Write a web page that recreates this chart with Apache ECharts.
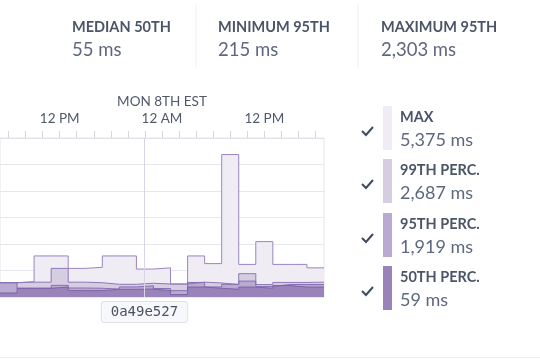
<!DOCTYPE html>
<html><head><meta charset="utf-8">
<script src="https://cdn.jsdelivr.net/npm/echarts@6/dist/echarts.min.js"></script>
<style>html,body{margin:0;padding:0;background:#fff}#c{width:540px;height:360px}</style>
</head><body><div id="c"></div>
<script>
// time bins (2 hours each)
const categories = ['6 AM','8 AM','10 AM','12 PM','2 PM','4 PM','6 PM','8 PM','10 PM','12 AM','2 AM','4 AM','6 AM','8 AM','10 AM','12 PM','2 PM','4 PM','6 PM'];
const maxValues = [540, 580, 1550, 1550, 1080, 1120, 1550, 1550, 1055, 1100, 490, 1550, 1260, 5375, 1230, 2090, 1230, 1230, 1100];
const p99Values = [540, 560, 560, 1080, 560, 540, 480, 480, 520, 490, 490, 560, 530, 470, 880, 470, 550, 550, 560];
const p95Values = [540, 330, 330, 440, 340, 330, 300, 380, 420, 320, 240, 550, 380, 480, 600, 400, 470, 470, 470];
const p50Values = [150, 330, 330, 375, 240, 240, 290, 290, 300, 240, 90, 375, 330, 290, 375, 330, 430, 375, 375];
const commitX = [8.47];
const commitLabel = '0a49e527';
const stats = [['MEDIAN 50TH','55 ms'],['MINIMUM 95TH','215 ms'],['MAXIMUM 95TH','2,303 ms']];
const legendItems = [['MAX','5,375 ms'],['99TH PERC.','2,687 ms'],['95TH PERC.','1,919 ms'],['50TH PERC.','59 ms']];

const fills = ['#efecf4','#d6cde3','#baa9d0','#9a83b9'];
const strokes = ['#9a86c2','#8e78b8','#8670b0','#7b64a6'];
const F = 'Lato, "Open Sans", sans-serif';

function toSteps(vals){
  const d = vals.map((v,i)=>[i,v]);
  d.push([vals.length, vals[vals.length-1]]);
  return d;
}

const chart = echarts.init(document.getElementById('c'), null, {renderer:'canvas'});
const graphic = [];
const statX = [72, 218, 381];
stats.forEach((s,i)=>{
  graphic.push({type:'text', left: statX[i], top: 19.5, style:{text:s[0], font:'bold 14.5px '+F, fill:'#4b5568'}});
  graphic.push({type:'text', left: statX[i], top: 41, style:{text:s[1], font:'18.5px '+F, fill:'#5d6880'}});
});
[196, 358].forEach(x=>graphic.push({type:'line', shape:{x1:x,y1:4,x2:x,y2:68}, style:{stroke:'#eef0f4', lineWidth:1}}));
graphic.push({type:'line', shape:{x1:0,y1:357.5,x2:540,y2:357.5}, style:{stroke:'#eceef2', lineWidth:1}});
const swTop = [106, 159, 213, 266];
legendItems.forEach((it,i)=>{
  const y = swTop[i];
  graphic.push({type:'rect', shape:{x:383,y:y,width:9,height:44}, style:{fill:fills[i]}});
  graphic.push({type:'polyline', shape:{points:[[362,y+25],[366,y+29],[373,y+21]]}, style:{stroke:'#3f4a5f', lineWidth:2, fill:null}});
  graphic.push({type:'text', left:400, top:y+4.3, style:{text:it[0], font:'bold 14.5px '+F, fill:'#4b5568'}});
  graphic.push({type:'text', left:400, top:y+25.3, style:{text:it[1], font:'18px '+F, fill:'#5d6880'}});
});

const mk = (name, vals, idx, extra) => Object.assign({
  name, type:'line', step:'end', xAxisIndex:0, yAxisIndex:0,
  data: toSteps(vals), symbol:'none', silent:true,
  lineStyle:{color:strokes[idx], width:1},
  areaStyle:{color:fills[idx], opacity:1}
}, extra||{});

chart.setOption({
  animation:false,
  grid:{left:0, right:216, top:138, bottom:63, show:true, borderColor:'#e3e6ec', borderWidth:1},
  xAxis:[
    {type:'value', min:0, max:categories.length, show:false},
    {type:'category', position:'top', data:categories, boundaryGap:true,
     axisLine:{show:true, lineStyle:{color:'#e0e3e9'}},
     axisTick:{show:true, alignWithLabel:true, interval:0, length:7, lineStyle:{color:'#d3d7df'}},
     axisLabel:{interval:(i)=> i%6===3, margin:12, color:'#4f596c', fontFamily:F, fontSize:13.5,
       formatter:(v,i)=> i===9 ? '{d|MON 8TH EST}\n'+v : v,
       rich:{d:{fontFamily:F, fontSize:13.5, color:'#4f596c', lineHeight:21, padding:[0,0,0,0]}}},
     splitLine:{show:false}}
  ],
  yAxis:{type:'value', min:0, max:6000, interval:1000, axisLabel:{show:false}, axisLine:{show:false}, axisTick:{show:false},
    splitLine:{lineStyle:{color:'#e6e8ef', width:1}}},
  series:[
    mk('MAX', maxValues, 0, {markLine:{symbol:'none', silent:true, animation:false,
      lineStyle:{color:'#d8d5e8', type:'solid', width:1},
      label:{show:true, position:'start', formatter:commitLabel, distance:5,
        fontFamily:'"DejaVu Sans Mono", monospace', fontSize:14, lineHeight:16, color:'#4a5263',
        backgroundColor:'#f7f8fb', borderColor:'#dde1e7', borderWidth:1, borderRadius:3, padding:[2,9,2,9]},
      data:[{xAxis:commitX[0]}]}}),
    mk('99TH', p99Values, 1),
    mk('95TH', p95Values, 2),
    mk('50TH', p50Values, 3)
  ],
  graphic
});
</script></body></html>
